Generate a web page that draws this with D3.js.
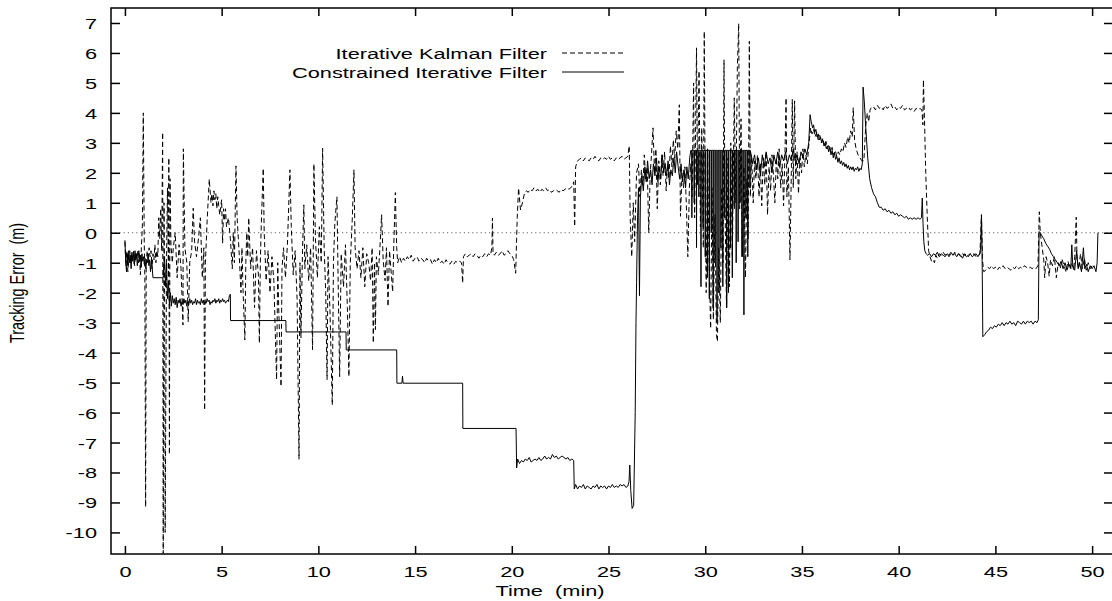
<!DOCTYPE html>
<html>
<head>
<meta charset="utf-8">
<script src="https://cdn.jsdelivr.net/npm/d3@7"></script>
<style>
  body { margin: 0; background: #fff; }
  text { font-family: "Liberation Sans", Arial, Helvetica, sans-serif; fill: #000; white-space: pre; }
</style>
</head>
<body>
<div id="chart"></div>
<script>
// tick values and labels
const xTicks = [0, 5, 10, 15, 20, 25, 30, 35, 40, 45, 50];
const yTicks = [7, 6, 5, 4, 3, 2, 1, 0, -1, -2, -3, -4, -5, -6, -7, -8, -9, -10];
const seriesNames = ["Iterative Kalman Filter", "Constrained Iterative Filter"];

// Iterative Kalman Filter: [time (min), error (m)]
const kalman = [
  [0.0,-0.3],[0.05,-1.1],[0.1,-0.6],[0.15,-1.3],[0.2,-0.8],[0.25,-0.6],[0.3,-1.0],[0.35,-0.7],[0.4,-0.9],[0.45,-0.6],
  [0.5,-1.1],[0.55,-0.7],[0.6,-0.9],[0.65,-0.6],[0.7,-1.0],[0.75,-0.7],[0.8,-1.4],[0.85,-0.5],[0.9,0.2],[0.95,4.0],
  [1.0,-0.4],[1.03,-1.5],[1.07,-9.15],[1.1,-1.0],[1.15,-0.6],[1.2,-0.9],[1.25,-0.5],[1.3,-0.8],[1.35,-0.6],[1.4,-1.2],
  [1.45,-0.7],[1.5,-0.9],[1.55,-0.4],[1.6,-1.0],[1.65,-0.6],[1.7,-0.8],[1.75,0.5],[1.8,-0.2],[1.85,0.8],[1.9,-0.6],
  [1.95,3.35],[1.98,-10.7],[2.02,1.0],[2.05,-2.0],[2.08,-10.0],[2.15,-1.0],[2.2,1.5],[2.25,-1.5],[2.27,2.5],[2.3,-7.4],
  [2.33,1.8],[2.38,-0.4],[2.45,-1.0],[2.5,-0.5],[2.6,0.0],[2.7,-1.5],[2.8,-0.4],[2.9,-1.2],[3.0,-3.08],[3.02,2.8],
  [3.1,-0.5],[3.2,-1.0],[3.27,-2.97],[3.35,-1.0],[3.45,-0.6],[3.53,0.82],[3.6,-0.3],[3.7,-0.8],[3.8,-0.2],[3.9,0.5],
  [4.0,-1.5],[4.08,-0.5],[4.12,-5.92],[4.16,-1.0],[4.25,0.4],[4.36,1.79],[4.45,1.0],[4.5,1.3],[4.55,0.9],[4.6,1.4],
  [4.65,1.1],[4.7,1.3],[4.75,0.8],[4.8,1.2],[4.85,0.9],[4.9,0.6],[5.0,1.1],[5.05,-0.35],[5.1,0.8],[5.15,0.4],
  [5.2,0.8],[5.25,0.2],[5.35,0.5],[5.45,-0.2],[5.55,-1.2],[5.6,0.0],[5.66,-1.0],[5.74,2.23],[5.8,0.5],[5.9,-0.6],
  [6.0,-2.0],[6.05,-0.5],[6.1,-1.8],[6.2,-3.58],[6.25,-1.0],[6.3,0.0],[6.35,-0.8],[6.4,0.5],[6.5,-1.2],[6.6,-0.5],
  [6.7,-2.5],[6.8,-0.6],[6.9,-1.4],[6.95,-3.68],[7.0,-1.0],[7.05,0.3],[7.15,2.15],[7.2,0.0],[7.3,-1.6],[7.4,-0.6],
  [7.5,-2.0],[7.6,-0.8],[7.7,-1.6],[7.84,-4.9],[7.9,-1.0],[7.95,-2.5],[8.07,-5.13],[8.12,-1.2],[8.2,-0.5],[8.3,-1.5],
  [8.4,-0.4],[8.53,2.1],[8.6,0.2],[8.7,-1.4],[8.8,-0.6],[8.9,-2.2],[9.0,-7.56],[9.05,-1.0],[9.1,-3.5],[9.18,-0.6],
  [9.25,0.93],[9.3,-1.2],[9.4,-0.4],[9.5,-1.6],[9.6,-0.5],[9.7,-3.9],[9.77,2.3],[9.85,-0.2],[9.95,-1.5],[10.05,0.2],
  [10.15,-1.0],[10.22,2.82],[10.3,-0.5],[10.38,-2.0],[10.45,-4.9],[10.5,-0.8],[10.6,-2.6],[10.72,-5.75],[10.78,-1.0],[10.85,0.3],
  [10.96,1.2],[11.02,-1.5],[11.1,-4.8],[11.18,-0.7],[11.3,-1.8],[11.4,-0.4],[11.5,-2.5],[11.58,-4.8],[11.65,-1.0],[11.75,0.4],
  [11.84,2.1],[11.9,-0.5],[12.0,-1.2],[12.1,-0.6],[12.2,-1.5],[12.3,-0.5],[12.4,-1.8],[12.5,-0.7],[12.6,-1.0],[12.7,-1.6],
  [12.78,-0.5],[12.84,-3.68],[12.9,-1.0],[12.95,-3.23],[13.0,-0.8],[13.1,-1.4],[13.2,-0.3],[13.27,0.6],[13.35,-0.9],[13.45,-1.6],
  [13.52,-0.5],[13.6,-2.46],[13.68,-0.6],[13.75,-1.2],[13.84,-1.97],[13.9,-0.4],[13.98,1.34],[14.05,-0.5],[14.1,-1.0],
  [14.2,-0.8],[14.3,-1.0],[14.4,-0.85],[14.5,-0.95],[14.6,-0.8],[14.7,-0.9],[14.8,-0.75],[14.9,-0.95],[15.0,-0.85],[15.1,-0.8],
  [15.2,-0.95],[15.3,-0.85],[15.4,-0.9],[15.5,-1.0],[15.6,-0.85],[15.7,-0.95],[15.8,-0.9],[15.9,-1.05],[16.0,-0.9],[16.1,-1.0],
  [16.2,-0.85],[16.3,-1.0],[16.4,-0.95],[16.5,-1.05],[16.6,-0.9],[16.7,-1.0],[16.8,-1.05],[16.9,-0.95],[17.0,-1.05],[17.1,-0.95],
  [17.2,-1.0],[17.3,-0.95],[17.4,-1.0],[17.46,-1.68],[17.5,-0.8],[17.6,-0.7],[17.7,-0.8],[17.8,-0.75],[17.9,-0.7],[18.0,-0.8],
  [18.1,-0.7],[18.2,-0.75],[18.3,-0.85],[18.4,-0.75],[18.5,-0.8],[18.6,-0.7],[18.7,-0.8],[18.8,-0.7],[18.9,-0.75],[18.97,-0.5],
  [19.0,0.49],[19.03,-0.7],[19.1,-0.75],[19.2,-0.65],[19.3,-0.75],[19.4,-0.7],[19.5,-0.6],[19.6,-0.75],[19.7,-0.7],[19.8,-0.6],
  [19.9,-0.7],[20.0,-0.75],[20.1,-0.9],[20.2,-1.35],[20.28,0.5],[20.35,1.49],[20.45,0.76],[20.55,1.0],[20.65,1.3],[20.75,1.4],
  [20.85,1.35],[20.95,1.45],[21.05,1.4],[21.15,1.5],[21.25,1.4],[21.35,1.45],[21.45,1.35],[21.55,1.45],[21.65,1.4],[21.75,1.5],
  [21.85,1.4],[21.95,1.45],[22.05,1.35],[22.15,1.4],[22.25,1.45],[22.35,1.4],[22.45,1.35],[22.55,1.45],[22.65,1.4],[22.75,1.45],
  [22.85,1.5],[22.95,1.45],[23.05,1.5],[23.15,1.6],[23.2,1.7],[23.25,0.21],[23.3,2.2],[23.4,2.4],[23.5,2.45],[23.6,2.5],
  [23.7,2.4],[23.8,2.5],[23.9,2.45],[24.0,2.4],[24.1,2.5],[24.2,2.45],[24.3,2.55],[24.4,2.45],[24.5,2.4],[24.6,2.5],
  [24.7,2.45],[24.8,2.5],[24.9,2.45],[25.0,2.55],[25.1,2.45],[25.2,2.5],[25.3,2.4],[25.4,2.5],[25.5,2.45],[25.6,2.5],
  [25.7,2.55],[25.8,2.45],[25.9,2.5],[26.0,2.55],[26.07,2.9],[26.12,0.5],[26.2,-0.8],[26.28,1.0],[26.35,-0.3],[26.45,2.0],
  [26.55,2.3],[26.62,1.2],[26.7,2.1],[26.78,1.6],[26.85,2.6],[26.92,1.8],[27.0,2.2],[27.08,0.0],[27.15,1.9],[27.22,2.6],
  [27.3,3.5],[27.38,2.0],[27.45,2.8],[27.52,0.8],[27.6,2.4],[27.68,1.6],[27.75,2.6],[27.82,1.9],[27.9,2.7],[27.98,1.4],
  [28.05,2.3],[28.12,1.8],[28.2,2.9],[28.28,2.2],[28.35,3.1],[28.42,2.5],[28.5,3.4],[28.58,2.8],[28.66,4.27],[28.72,0.55],
  [28.8,2.0],[28.88,1.5],[28.95,2.2],[29.02,1.0],[29.1,-0.8],[29.18,1.5],[29.25,2.3],[29.32,1.2],[29.4,5.0],[29.45,0.5],
  [29.55,6.17],[29.6,1.6],[29.68,5.4],[29.75,0.2],[29.82,3.5],[29.9,-0.5],[29.95,6.72],[30.0,1.0],[30.05,-2.0],[30.12,2.8],
  [30.2,-1.0],[30.28,-3.2],[30.35,1.5],[30.42,-2.9],[30.5,0.6],[30.58,-3.4],[30.63,-3.63],[30.7,-0.5],[30.78,-3.0],[30.85,1.5],
  [30.92,-1.0],[30.97,5.77],[31.02,1.0],[31.1,-2.5],[31.18,2.5],[31.25,-1.8],[31.32,3.0],[31.4,-0.8],[31.5,4.5],[31.58,1.0],
  [31.66,5.5],[31.73,6.98],[31.78,0.8],[31.85,3.8],[31.92,-0.8],[32.0,2.2],[32.08,-1.5],[32.15,1.8],[32.22,-0.2],[32.28,6.39],
  [32.33,1.2],[32.4,2.5],[32.48,1.0],[32.55,2.4],[32.62,1.8],[32.7,2.6],[32.78,1.2],[32.85,2.3],[32.92,0.9],[33.0,2.5],
  [33.08,1.6],[33.15,2.7],[33.22,0.6],[33.3,2.2],[33.38,1.4],[33.45,2.6],[33.52,2.0],[33.6,1.0],[33.68,2.5],[33.75,1.8],
  [33.82,2.8],[33.9,1.5],[33.98,2.3],[34.05,0.9],[34.12,2.6],[34.18,4.5],[34.22,1.2],[34.3,2.2],[34.38,-0.9],[34.45,2.0],
  [34.5,4.45],[34.55,1.5],[34.62,4.4],[34.68,1.8],[34.75,2.7],[34.82,1.3],[34.9,2.5],[34.98,2.0],[35.05,2.8],[35.12,2.2],
  [35.2,2.6],[35.28,2.3],[35.35,2.9],[35.45,3.5],[35.52,3.3],[35.6,3.45],[35.68,3.2],[35.76,3.35],[35.84,3.1],[35.92,3.25],
  [36.0,3.0],[36.08,3.15],[36.16,2.9],[36.24,3.05],[36.32,2.8],[36.4,2.95],[36.48,2.7],[36.56,2.85],[36.64,2.6],[36.72,2.75],
  [36.8,2.55],[36.88,2.7],[36.96,2.6],[37.04,2.8],[37.12,2.7],[37.2,3.0],[37.28,2.85],[37.36,3.2],[37.44,3.0],[37.52,3.4],
  [37.6,3.2],[37.65,4.17],[37.72,3.1],[37.8,2.8],[37.9,2.6],[38.0,2.5],[38.1,2.4],[38.2,2.4],[38.3,3.6],[38.38,4.0],
  [38.45,3.7],[38.52,4.1],[38.6,4.2],[38.7,4.2],[38.8,4.1],[38.9,4.25],
  [39.0,4.15],[39.1,4.2],[39.2,4.1],[39.3,4.25],[39.4,4.15],[39.5,4.2],[39.6,4.3],[39.7,4.15],[39.8,4.2],[39.9,4.1],
  [40.0,4.2],[40.1,4.15],[40.2,4.25],[40.3,4.1],[40.4,4.15],[40.5,4.2],[40.6,4.1],[40.7,4.15],[40.8,4.05],[40.9,4.15],
  [41.0,4.1],[41.1,4.15],[41.2,4.1],[41.25,3.6],[41.28,5.1],[41.33,3.9],[41.4,2.0],[41.48,0.5],[41.55,-0.6],[41.62,-0.8],
  [41.7,-0.95],[41.78,-0.9],[41.85,-1.0],[41.92,-0.75],[42.0,-0.85],[42.1,-0.7],[42.2,-0.75],[42.3,-0.65],[42.4,-0.75],[42.5,-0.7],
  [42.6,-0.8],[42.7,-0.7],[42.8,-0.75],[42.9,-0.65],[43.0,-0.75],[43.1,-0.7],[43.2,-0.8],[43.3,-0.7],[43.4,-0.75],[43.5,-0.7],
  [43.6,-0.8],[43.7,-0.7],[43.8,-0.75],[43.9,-0.7],[44.0,-0.8],[44.1,-0.75],[44.2,-0.7],[44.28,0.6],[44.33,-0.9],[44.4,-1.3],
  [44.5,-1.25],[44.6,-1.15],[44.7,-1.2],[44.8,-1.1],[44.9,-1.2],[45.0,-1.15],[45.1,-1.25],[45.2,-1.15],[45.3,-1.2],[45.4,-1.1],
  [45.5,-1.2],[45.6,-1.15],[45.7,-1.2],[45.8,-1.25],[45.9,-1.15],[46.0,-1.2],[46.1,-1.1],[46.2,-1.2],[46.3,-1.15],[46.4,-1.2],
  [46.5,-1.1],[46.6,-1.15],[46.7,-1.2],[46.8,-1.15],[46.9,-1.2],[47.0,-1.15],[47.1,-1.2],[47.2,-1.1],[47.27,0.7],[47.32,0.0],
  [47.4,-0.4],[47.5,-0.9],[47.55,-1.5],[47.62,-0.8],[47.7,-1.0],[47.78,-1.45],[47.85,-0.9],[47.95,-1.1],[48.05,-0.8],[48.15,-1.5],
  [48.25,-1.0],[48.35,-1.2],[48.45,-0.9],[48.55,-1.1],[48.65,-1.3],[48.75,-0.95],[48.85,-1.2],[48.95,-1.0],[49.05,-1.25],[49.1,-0.8],
  [49.18,0.52],[49.22,-0.9],[49.3,-1.2],[49.4,-0.7],[49.5,-1.2],[49.6,-0.85],[49.7,-1.25],[49.8,-1.0],[49.9,-1.2],[50.0,-1.1],
  [50.1,-1.15]
];

// Constrained Iterative Filter: [time (min), error (m)]
const constrained = [
  [0.0,-0.25],[0.04,-0.9],[0.08,-1.3],[0.12,-0.7],[0.16,-1.1],[0.2,-0.6],[0.24,-1.0],[0.28,-0.75],[0.32,-1.2],[0.36,-0.65],
  [0.4,-0.95],[0.44,-0.7],[0.48,-1.05],[0.52,-0.6],[0.56,-0.9],[0.6,-0.7],[0.64,-1.1],[0.68,-0.8],[0.72,-0.6],[0.76,-0.95],
  [0.8,-0.75],[0.84,-1.15],[0.88,-0.7],[0.92,-0.95],[0.96,-0.8],[1.0,-1.05],[1.04,-0.85],[1.08,-1.2],[1.12,-0.9],[1.16,-1.0],
  [1.2,-0.8],[1.24,-1.1],[1.28,-0.9],[1.32,-1.3],[1.36,-0.95],[1.4,-1.1],[1.45,-1.5],[1.98,-1.5],[2.0,-1.2],[2.05,-0.8],
  [2.1,-1.8],[2.15,-1.0],[2.2,-2.2],[2.25,-1.6],[2.3,-2.4],[2.35,-2.0],[2.4,-2.45],[2.45,-2.1],[2.5,-2.35],[2.55,-2.2],
  [2.6,-2.4],[2.65,-2.15],[2.7,-2.5],[2.75,-2.25],[2.8,-2.35],[2.85,-2.2],[2.9,-2.45],[2.95,-2.3],[3.0,-2.4],[3.05,-2.2],
  [3.1,-2.35],[3.15,-2.25],[3.2,-2.45],[3.25,-2.3],[3.3,-2.4],[3.35,-2.2],[3.4,-2.35],[3.45,-2.25],[3.5,-2.4],[3.55,-2.3],
  [3.6,-2.35],[3.65,-2.2],[3.7,-2.4],[3.75,-2.25],[3.8,-2.35],[3.85,-2.3],[3.9,-2.4],[3.95,-2.2],[4.0,-2.35],[4.05,-2.25],
  [4.1,-2.4],[4.15,-2.3],[4.2,-2.35],[4.25,-2.2],[4.3,-2.3],[4.35,-2.25],[4.4,-2.4],[4.45,-2.3],[4.5,-2.35],[4.55,-2.25],
  [4.6,-2.3],[4.65,-2.2],[4.7,-2.35],[4.75,-2.25],[4.8,-2.3],[4.85,-2.2],[4.9,-2.35],[4.95,-2.25],[5.0,-2.3],[5.05,-2.2],
  [5.1,-2.3],[5.15,-2.25],[5.2,-2.35],[5.25,-2.3],[5.3,-2.25],[5.35,-2.3],[5.4,-2.1],[5.45,-2.05],[5.46,-2.93],[8.32,-2.93],
  [8.33,-3.31],[11.43,-3.31],[11.44,-3.91],[14.05,-3.91],[14.06,-5.02],[14.32,-5.02],[14.35,-4.78],[14.38,-5.02],[17.46,-5.02],[17.47,-6.53],
  [20.22,-6.53],[20.25,-7.85],[20.3,-7.55],[20.4,-7.7],[20.5,-7.6],[20.6,-7.65],[20.7,-7.55],[20.8,-7.6],[20.9,-7.5],[21.0,-7.65],
  [21.1,-7.6],[21.2,-7.55],[21.3,-7.6],[21.4,-7.5],[21.5,-7.6],[21.6,-7.55],[21.7,-7.45],[21.8,-7.55],[21.9,-7.5],[22.0,-7.55],
  [22.1,-7.4],[22.2,-7.5],[22.3,-7.45],[22.4,-7.55],[22.5,-7.5],[22.6,-7.45],[22.7,-7.5],[22.8,-7.55],[22.9,-7.5],[23.0,-7.6],
  [23.1,-7.55],[23.2,-7.6],[23.23,-8.55],[23.3,-8.4],[23.4,-8.55],[23.5,-8.45],[23.6,-8.5],[23.7,-8.4],[23.8,-8.55],[23.9,-8.45],
  [24.0,-8.5],[24.1,-8.55],[24.2,-8.45],[24.3,-8.5],[24.4,-8.4],[24.5,-8.55],[24.6,-8.45],[24.7,-8.5],[24.8,-8.45],[24.9,-8.55],
  [25.0,-8.45],[25.1,-8.5],[25.2,-8.4],[25.3,-8.5],[25.4,-8.45],[25.5,-8.5],[25.6,-8.4],[25.7,-8.45],[25.8,-8.4],[25.9,-8.5],
  [26.0,-8.45],[26.06,-8.3],[26.1,-7.75],[26.15,-8.6],[26.22,-9.2],[26.3,-9.1],[26.38,-6.0],[26.42,-3.0],[26.45,-1.67],[26.5,0.5],
  [26.55,1.5],[26.6,-2.1],[26.65,1.2],[26.72,1.9],[26.8,1.4],[26.88,2.2],[26.95,1.7],[27.02,2.4],[27.1,1.8],[27.18,2.1],
  [27.25,1.6],[27.32,2.3],[27.4,1.9],[27.48,2.5],[27.55,1.7],[27.62,2.2],[27.7,1.8],[27.78,2.6],[27.85,2.0],[27.92,2.3],
  [28.0,1.9],[28.08,2.4],[28.15,1.6],[28.22,2.1],[28.3,1.9],[28.38,2.5],[28.45,2.0],[28.52,2.7],[28.6,2.2],[28.68,1.8],
  [28.75,2.3],[28.82,1.7],[28.9,2.1],[28.98,1.5],[29.05,2.2],[29.12,1.8],[29.2,2.5],[29.25,2.75],[29.3,2.75],[29.31,0.5],
  [29.32,2.75],[29.42,2.75],[29.43,1.0],[29.44,2.75],[29.54,2.75],[29.55,-0.5],[29.56,2.75],[29.66,2.75],[29.67,1.2],[29.68,2.75],
  [29.77,2.75],[29.78,-1.8],[29.79,2.75],[29.88,2.75],[29.89,0.2],[29.9,2.75],[29.99,2.75],[30.0,-0.8],[30.01,2.75],[30.1,2.75],
  [30.11,-1.5],[30.12,2.75],[30.2,2.75],[30.21,-2.2],[30.22,2.75],[30.3,2.75],[30.31,0.0],[30.32,2.75],[30.4,2.75],[30.41,-2.5],
  [30.42,2.75],[30.5,2.75],[30.51,-1.0],[30.52,2.75],[30.6,2.75],[30.61,-3.0],[30.62,2.75],[30.7,2.75],[30.71,-2.0],[30.72,2.75],
  [30.8,2.75],[30.81,-0.5],[30.82,2.75],[30.9,2.75],[30.91,-1.8],[30.92,2.75],[31.0,2.75],[31.01,0.5],[31.02,2.75],[31.1,2.75],
  [31.11,-2.5],[31.12,2.75],[31.19,2.75],[31.2,-2.0],[31.21,2.75],[31.29,2.75],[31.3,-0.5],[31.31,2.75],[31.39,2.75],[31.4,-1.5],
  [31.41,2.75],[31.49,2.75],[31.5,0.8],[31.51,2.75],[31.59,2.75],[31.6,-1.0],[31.61,2.75],[31.69,2.75],[31.7,-0.3],[31.71,2.75],
  [31.79,2.75],[31.8,1.0],[31.81,2.75],[31.89,2.75],[31.9,-0.8],[31.91,2.75],[31.99,2.75],[32.0,-2.74],[32.01,2.75],[32.09,2.75],
  [32.1,0.5],[32.11,2.75],[32.19,2.75],[32.2,-0.8],[32.21,2.75],[32.3,2.75],[32.31,1.5],[32.32,2.75],[32.38,2.6],[32.45,2.3],
  [32.55,2.6],[32.65,2.1],[32.75,2.5],[32.85,1.9],[32.95,2.6],[33.05,2.2],[33.15,2.7],[33.25,2.3],[33.35,2.5],[33.45,2.0],
  [33.55,2.6],[33.65,2.3],[33.75,2.7],[33.85,2.2],[33.95,2.6],[34.05,2.4],[34.15,2.7],[34.25,2.3],[34.35,2.6],[34.45,2.4],
  [34.55,2.8],[34.65,2.4],[34.75,2.6],[34.85,2.3],[34.95,2.7],[35.05,2.5],[35.15,2.8],[35.25,2.6],[35.35,3.0],[35.42,3.94],
  [35.48,3.7],[35.55,3.5],[35.6,3.6],[35.66,3.35],[35.72,3.45],[35.78,3.2],[35.84,3.3],[35.9,3.1],[35.96,3.2],[36.02,3.0],
  [36.08,3.1],[36.14,2.9],[36.2,3.0],[36.26,2.8],[36.32,2.9],[36.38,2.7],[36.44,2.85],[36.5,2.6],[36.56,2.75],[36.62,2.5],
  [36.68,2.65],[36.74,2.45],[36.8,2.55],[36.86,2.35],[36.92,2.5],[36.98,2.3],[37.04,2.4],[37.1,2.25],[37.16,2.35],[37.22,2.2],
  [37.28,2.3],[37.34,2.15],[37.4,2.25],[37.46,2.1],[37.52,2.2],[37.58,2.1],[37.64,2.2],[37.7,2.05],[37.76,2.15],[37.82,2.1],
  [37.88,2.2],[37.94,2.05],[38.0,2.15],[38.06,2.1],[38.12,2.3],[38.16,4.86],[38.22,4.4],[38.3,3.5],[38.4,2.5],[38.5,1.8],
  [38.6,1.5],[38.7,1.3],[38.8,1.2],[38.9,1.0],[39.0,0.85],[39.1,0.85],[39.2,0.75],[39.3,0.8],[39.4,0.7],[39.5,0.75],
  [39.6,0.65],[39.7,0.7],[39.8,0.6],[39.9,0.65],[40.0,0.55],[40.1,0.6],[40.2,0.55],[40.3,0.5],[40.4,0.55],[40.5,0.45],
  [40.6,0.5],[40.7,0.45],[40.8,0.5],[40.9,0.45],[41.0,0.5],[41.1,0.45],[41.18,0.5],[41.22,1.16],[41.26,0.3],[41.3,-0.3],
  [41.35,-0.6],[41.42,-0.7],[41.5,-0.75],[41.6,-0.7],[41.7,-0.8],[41.8,-0.7],[41.9,-0.75],[42.0,-0.65],[42.1,-0.8],[42.2,-0.7],
  [42.3,-0.75],[42.4,-0.8],[42.5,-0.7],[42.6,-0.75],[42.7,-0.65],[42.8,-0.75],[42.9,-0.7],[43.0,-0.8],[43.1,-0.7],[43.2,-0.75],
  [43.3,-0.85],[43.4,-0.7],[43.5,-0.8],[43.6,-0.75],[43.7,-0.7],[43.8,-0.8],[43.9,-0.75],[44.0,-0.7],[44.1,-0.8],[44.2,-0.7],
  [44.25,-0.4],[44.28,0.6],[44.31,-0.5],[44.35,-3.47],[44.45,-3.4],[44.55,-3.3],[44.65,-3.25],[44.75,-3.15],[44.85,-3.2],[44.95,-3.1],
  [45.05,-3.15],[45.15,-3.05],[45.25,-3.1],[45.35,-3.0],[45.45,-3.1],[45.55,-3.0],[45.65,-3.05],[45.75,-2.95],[45.85,-3.05],[45.95,-3.0],
  [46.05,-3.1],[46.15,-2.95],[46.25,-3.0],[46.35,-3.05],[46.45,-2.95],[46.55,-3.05],[46.65,-2.95],[46.75,-3.0],[46.85,-2.95],[46.95,-3.05],
  [47.05,-2.95],[47.15,-3.0],[47.22,-2.9],[47.26,0.04],[47.32,0.0],[47.4,-0.1],[47.5,-0.2],[47.6,-0.35],[47.7,-0.45],[47.8,-0.55],
  [47.9,-0.7],[48.0,-0.8],[48.1,-0.9],[48.2,-1.0],[48.3,-1.1],[48.4,-0.95],[48.5,-1.2],[48.6,-1.0],[48.7,-1.25],[48.8,-1.05],
  [48.9,-1.2],[48.95,-0.4],[49.0,-1.1],[49.1,-1.25],[49.2,-0.6],[49.28,-1.2],[49.35,-1.0],[49.45,-1.3],[49.55,-0.5],[49.62,-1.2],
  [49.7,-1.05],[49.8,-1.3],[49.9,-1.1],[50.0,-1.2],[50.1,-1.1],[50.2,-1.3],[50.26,-1.0],[50.3,0.0]
];

const width = 1112, height = 601;
const svg = d3.select("#chart").append("svg")
  .attr("width", width)
  .attr("height", height);

// plot frame: left 111, right 1113, top 8, bottom 554
const x = d3.scaleLinear().domain([-0.72, 51.08]).range([111, 1113]);
const y = d3.scaleLinear().domain([-10.72, 7.5]).range([554, 8]);

const textScale = 1.45; // the labels are drawn wider than tall

svg.append("clipPath").attr("id", "plot-clip")
  .append("rect")
  .attr("x", x.range()[0]).attr("y", y.range()[1])
  .attr("width", x.range()[1] - x.range()[0])
  .attr("height", y.range()[0] - y.range()[1]);

// zero line
svg.append("line")
  .attr("x1", x.range()[0]).attr("x2", x.range()[1])
  .attr("y1", y(0)).attr("y2", y(0))
  .attr("stroke", "#666")
  .attr("stroke-width", 1)
  .attr("stroke-dasharray", "1.2,3");

const line = d3.line()
  .x(d => x(d[0]))
  .y(d => y(d[1]));

const plot = svg.append("g").attr("clip-path", "url(#plot-clip)");

plot.append("path")
  .datum(constrained)
  .attr("fill", "none")
  .attr("stroke", "#000")
  .attr("stroke-width", 1)
  .attr("d", line);

plot.append("path")
  .datum(kalman)
  .attr("fill", "none")
  .attr("stroke", "#000")
  .attr("stroke-width", 1)
  .attr("stroke-dasharray", "5,3")
  .attr("d", line);

// axes with inward ticks, plain hyphen for negatives
const yAxis = svg.append("g")
  .attr("transform", "translate(" + x.range()[0] + ",0)")
  .call(d3.axisLeft(y).tickValues(yTicks).tickSize(-9).tickPadding(0).tickFormat(d => String(d)));
yAxis.selectAll(".tick text")
  .attr("x", null).attr("dy", null)
  .attr("transform", "translate(-14,5.5) scale(" + textScale + ",1)")
  .style("font-size", "15px");

svg.append("g")
  .attr("transform", "translate(" + x.range()[1] + ",0)")
  .call(d3.axisRight(y).tickValues(yTicks).tickSize(-9).tickFormat(""));

const xAxis = svg.append("g")
  .attr("transform", "translate(0," + y.range()[0] + ")")
  .call(d3.axisBottom(x).tickValues(xTicks).tickSize(-8).tickPadding(0).tickFormat(d => String(d)));
xAxis.selectAll(".tick text")
  .attr("y", null).attr("dy", null)
  .attr("transform", "translate(0,23) scale(" + textScale + ",1)")
  .style("font-size", "15px");

svg.append("g")
  .attr("transform", "translate(0," + y.range()[1] + ")")
  .call(d3.axisTop(x).tickValues(xTicks).tickSize(-8).tickFormat(""));

svg.selectAll(".domain").remove();
svg.selectAll(".tick line").attr("stroke", "#000").attr("stroke-width", 1.5);

svg.append("rect")
  .attr("x", x.range()[0]).attr("y", y.range()[1])
  .attr("width", x.range()[1] - x.range()[0])
  .attr("height", y.range()[0] - y.range()[1])
  .attr("fill", "none")
  .attr("stroke", "#000")
  .attr("stroke-width", 1.5);

// axis titles
svg.append("text")
  .attr("text-anchor", "middle")
  .attr("transform", "translate(550,596) scale(" + textScale + ",1)")
  .style("font-size", "15px")
  .text("Time  (min)");

svg.append("text")
  .attr("text-anchor", "middle")
  .attr("transform", "translate(24,283) rotate(-90) scale(1,1.4)")
  .style("font-size", "14.4px")
  .text("Tracking Error  (m)");

// legend
const legendRows = [
  { name: seriesNames[0], dash: "5,3", y: 53 },
  { name: seriesNames[1], dash: null, y: 72 }
];
const legend = svg.append("g");
legendRows.forEach(function (r) {
  legend.append("text")
    .attr("text-anchor", "end")
    .attr("transform", "translate(547," + (r.y + 5.5) + ") scale(" + textScale + ",1)")
    .style("font-size", "15px")
    .text(r.name);
  legend.append("line")
    .attr("x1", 562).attr("x2", 624)
    .attr("y1", r.y).attr("y2", r.y)
    .attr("stroke", "#000")
    .attr("stroke-width", 1)
    .attr("stroke-dasharray", r.dash);
});
</script>
</body>
</html>
